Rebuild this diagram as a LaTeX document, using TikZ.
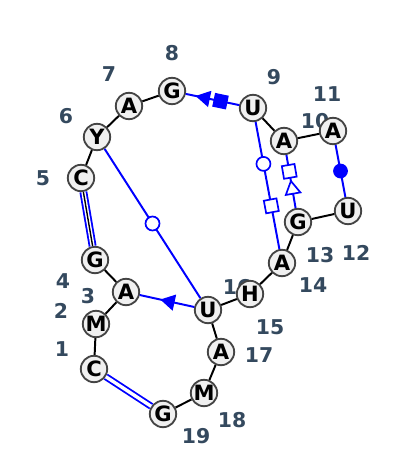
\documentclass[tikz,border=0pt]{standalone}
\usepackage{fontspec}
\setmainfont{DejaVu Sans}
\usetikzlibrary{shapes.geometric}
\definecolor{numcol}{RGB}{52,73,94}
\definecolor{basefill}{RGB}{240,240,240}
\definecolor{baseline}{RGB}{68,68,68}
\tikzset{
  base/.style={circle,draw=baseline,fill=basefill,line width=1.3pt,minimum size=0.66cm,inner sep=0pt,font=\fontsize{15}{15}\selectfont\bfseries},
  num/.style={text=numcol,font=\fontsize{14.5}{14.5}\selectfont\bfseries},
  chain/.style={line width=1.4pt,black},
  pair/.style={line width=1.4pt,blue},
  wcpair/.style={line width=1.3pt,blue,double=white,double distance=2.4pt},
  opencirc/.style={circle,draw=blue,fill=white,line width=1.2pt,minimum size=0.35cm,inner sep=0pt},
  fullcirc/.style={circle,fill=blue,minimum size=0.37cm,inner sep=0pt},
  opensq/.style={rectangle,draw=blue,fill=white,line width=1.2pt,minimum size=0.32cm,inner sep=0pt,sloped,allow upside down},
  fullsq/.style={rectangle,fill=blue,minimum size=0.35cm,inner sep=0pt,sloped,allow upside down},
  opentri/.style={isosceles triangle,isosceles triangle apex angle=60,draw=blue,fill=white,line width=1.2pt,minimum size=0.32cm,inner sep=0pt,sloped,allow upside down},
  fulltri/.style={isosceles triangle,isosceles triangle apex angle=60,fill=blue,minimum size=0.36cm,inner sep=0pt,sloped,allow upside down}
}
\begin{document}
\begin{tikzpicture}[x=0.025cm,y=-0.025cm]
\useasboundingbox (0,0) rectangle (400,475);
% numbers
\node[num] (l1) at (62,349){1};
\node[num] (l2) at (61,311){2};
\node[num] (l3) at (88,296){3};
\node[num] (l4) at (63,281){4};
\node[num] (l5) at (43,178){5};
\node[num] (l6) at (66,116){6};
\node[num] (l7) at (109,74){7};
\node[num] (l8) at (172,53){8};
\node[num] (l9) at (274,77){9};
\node[num] (l10) at (315,121){10};
\node[num] (l11) at (327,94){11};
\node[num] (l12) at (356,253){12};
\node[num] (l13) at (320,255){13};
\node[num] (l14) at (313,285){14};
\node[num] (l15) at (270,327){15};
\node[num] (l16) at (237,287){16};
\node[num] (l17) at (259,355){17};
\node[num] (l18) at (232,420){18};
\node[num] (l19) at (196,436){19};
% bases
\node[base] (n1) at (94,369){C};
\node[base] (n2) at (96,324){M};
\node[base] (n3) at (126,292){A};
\node[base] (n4) at (95,260){G};
\node[base] (n5) at (81,178){C};
\node[base] (n6) at (97,137){Y};
\node[base] (n7) at (129,106){A};
\node[base] (n8) at (172,91){G};
\node[base] (n9) at (253,108){U};
\node[base] (n10) at (284,141){A};
\node[base] (n11) at (333,131){A};
\node[base] (n12) at (348,211){U};
\node[base] (n13) at (298,222){G};
\node[base] (n14) at (282,263){A};
\node[base] (n15) at (250,294){H};
\node[base] (n16) at (208,310){U};
\node[base] (n17) at (221,352){A};
\node[base] (n18) at (204,393){M};
\node[base] (n19) at (163,414){G};
% backbone
\draw[chain] (n1) -- (n2) -- (n3) -- (n4);
\draw[chain] (n5) -- (n6) -- (n7) -- (n8);
\draw[chain] (n9) -- (n10) -- (n11);
\draw[chain] (n12) -- (n13) -- (n14) -- (n15) -- (n16) -- (n17) -- (n18) -- (n19);
% pairs
\draw[wcpair] (n1) -- (n19);
\draw[wcpair,double distance=3pt] (n4) -- (n5);
\draw[line width=1pt,black] (n4) -- (n5);
\draw[pair] (n8) -- node[pos=0.36,fulltri,shape border rotate=180]{} node[pos=0.65,fullsq]{} (n9);
\draw[pair] (n9) -- node[pos=0.33,opencirc]{} node[pos=0.66,opensq]{} (n14);
\draw[pair] (n10) -- node[pos=0.31,opensq]{} node[pos=0.65,opentri,shape border rotate=180]{} (n13);
\draw[pair] (n11) -- node[pos=0.5,fullcirc]{} (n12);
\draw[pair] (n6) -- node[pos=0.5,opencirc]{} (n16);
\draw[pair] (n3) -- node[pos=0.55,fulltri,shape border rotate=180]{} (n16);
\end{tikzpicture}
\end{document}
